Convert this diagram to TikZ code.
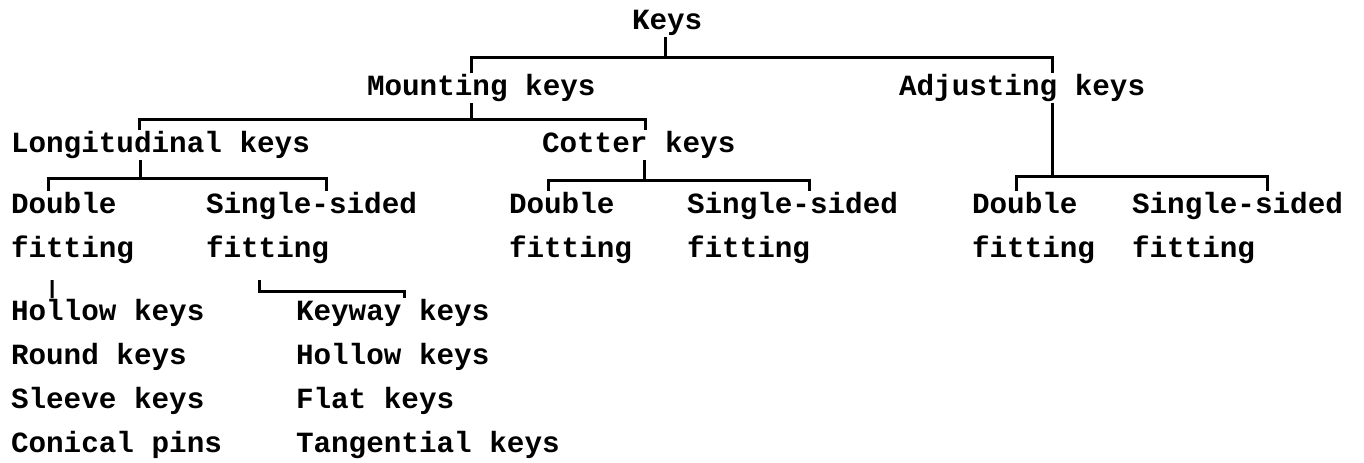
\documentclass[tikz,border=0pt]{standalone}
\usepackage{fontspec}
\setmonofont{Liberation Mono}
\usepackage{tikz}
\pgfdeclarelayer{bg}
\pgfsetlayers{bg,main}
\tikzset{
    kind/.style={anchor=base west, inner sep=0mm, outer sep=0mm, text height=11pt, text depth=4pt,
        font=\ttfamily\bfseries\fontsize{14.65pt}{16pt}\selectfont},
    link/.style={line width=1.5pt}
}

\begin{document}
\begin{tikzpicture}[x=0.5pt, y=-0.5pt]
        \useasboundingbox (0,0) rectangle (1364,462);
        \node (keys) [kind] at (632,29) {Keys};
        \node (mount) [kind] at (367,95) {Mounting keys};
        \node (adj) [kind] at (899,95) {Adjusting keys};
        \node (long) [kind] at (11,152) {Longitudinal keys};
        \node (cot) [kind] at (542,152) {Cotter keys};
        \node (dbl1) [kind] at (11,213) {Double};
        \node (sgl1) [kind] at (206,213) {Single-sided};
        \node (dbl2) [kind] at (509,213) {Double};
        \node (sgl2) [kind] at (687,213) {Single-sided};
        \node (dbl3) [kind] at (972,213) {Double};
        \node (sgl3) [kind] at (1132,213) {Single-sided};
        \node (fit1) [kind] at (11,257) {fitting};
        \node (fit2) [kind] at (206,257) {fitting};
        \node (fit3) [kind] at (509,257) {fitting};
        \node (fit4) [kind] at (687,257) {fitting};
        \node (fit5) [kind] at (972,257) {fitting};
        \node (fit6) [kind] at (1132,257) {fitting};
        \node (hol1) [kind] at (11,320) {Hollow keys};
        \node (rnd) [kind] at (11,364) {Round keys};
        \node (slv) [kind] at (11,408) {Sleeve keys};
        \node (con) [kind] at (11,452) {Conical pins};
        \node (kw) [kind] at (296,320) {Keyway keys};
        \node (hol2) [kind] at (296,364) {Hollow keys};
        \node (flat) [kind] at (296,408) {Flat keys};
        \node (tan) [kind] at (296,452) {Tangential keys};
        \coordinate (b0) at (666,57);
        \coordinate (b1) at (472,119);
        \coordinate (b2) at (1052,176);
        \coordinate (b3) at (142,178);
        \coordinate (b4) at (646,180);
        \coordinate (b5) at (330,291);
        \begin{pgfonlayer}{bg}
                \draw [link] ([xshift=-1pt]keys.south) |- (b0);
                \draw [link] ([xshift=-5pt]mount.north) |- (b0) -| ([xshift=15pt]adj.north);
                \draw [link] ([xshift=-5pt]mount.south) |- (b1);
                \draw [link] ([xshift=-10.5pt]long.north) |- (b1) -| ([xshift=3.5pt]cot.north);
                \draw [link] ([xshift=15pt]adj.south) |- (b2);
                \draw [link] ([xshift=-4pt]dbl3.north) |- (b2) -| ([xshift=14.75pt]sgl3.north);
                \draw [link] ([xshift=-10pt]long.south) |- (b3);
                \draw [link] ([xshift=-7.5pt]dbl1.north) |- (b3) -| ([xshift=7.25pt]sgl1.north);
                \draw [link] ([xshift=3pt]cot.south) |- (b4);
                \draw [link] ([xshift=-6.5pt]dbl2.north) |- (b4) -| ([xshift=8.25pt]sgl2.north);
                \draw [link] ([shift={(-10.25pt,-7.5pt)}]fit1.south) -- ([xshift=-27.85pt]hol1.north);
                \draw [link] ([shift={(-4.25pt,-7.5pt)}]fit2.south) |- (b5) -| ([xshift=5.65pt]kw.north);
        \end{pgfonlayer}
\end{tikzpicture}
\end{document}
